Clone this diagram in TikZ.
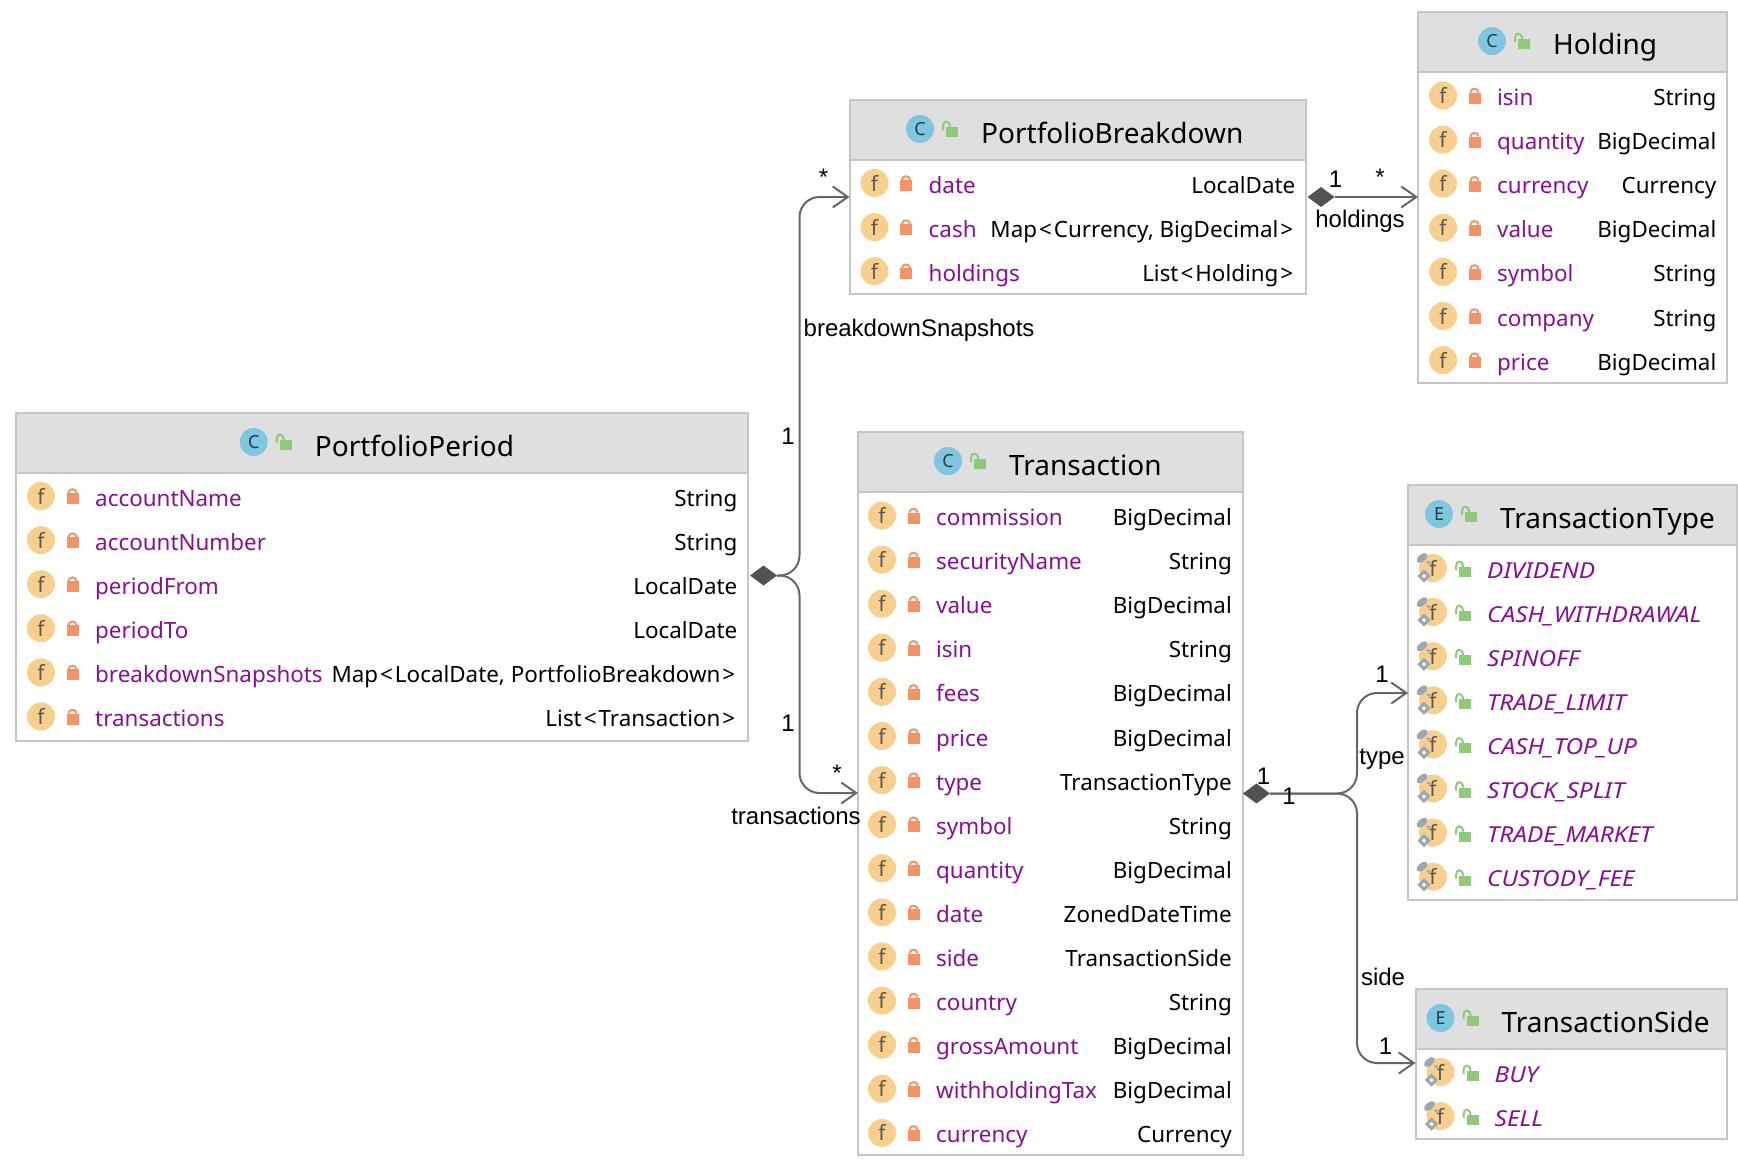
\documentclass[tikz,border=0pt]{standalone}
\usepackage{fontspec}
\setmainfont{Noto Sans}
\newfontfamily\labelfont{Liberation Sans}
\newfontfamily\enumfont[FakeStretch=1.11]{Noto Sans}
\usetikzlibrary{shapes.geometric, arrows.meta}

\definecolor{boxline}{HTML}{C6C6C6}
\definecolor{headfill}{HTML}{DFDFDF}
\definecolor{fieldpurple}{HTML}{871094}
\definecolor{fieldorange}{HTML}{F9CF8D}
\definecolor{classblue}{HTML}{7FC6E0}
\definecolor{lockred}{HTML}{F59367}
\definecolor{lockgreen}{HTML}{8FC97A}
\definecolor{pingray}{HTML}{9BA8B2}
\definecolor{connline}{HTML}{666666}

\newcommand{\ltag}{\kern2pt<\kern2pt}
\newcommand{\rtag}{\kern2pt>\kern2pt}

\tikzset{
	classbox/.style={draw=boxline, line width=2pt, fill=white, anchor=north west, inner sep=0pt, outer sep=0pt},
	headbox/.style={classbox, fill=headfill},
	classicon/.style={circle, fill=classblue, text=black!70!classblue, minimum size=28pt, inner sep=0pt, font=\fontsize{18}{18}\selectfont},
	titletext/.style={anchor=base west, inner sep=0pt, font=\fontsize{28}{28}\selectfont},
	fieldicon/.style={circle, fill=fieldorange, text=black!65, minimum size=28pt, inner sep=0pt, font=\fontsize{21}{21}\selectfont},
	namefield/.style={anchor=base west, inner sep=0pt, text=fieldpurple, font=\fontsize{22.4}{22.4}\selectfont},
	enumfield/.style={namefield, font=\enumfont\fontsize{22}{22}\selectfont\itshape},
	typefield/.style={anchor=base east, inner sep=0pt, font=\fontsize{22.4}{22.4}\selectfont},
	conn/.style={draw=connline, line width=2pt, rounded corners=20pt, -{Straight Barb[length=15pt,width=21pt]}},
	compo/.style={diamond, fill=black!68, minimum width=27pt, minimum height=20pt, inner sep=0pt, outer sep=0pt},
	rolelabel/.style={inner sep=0pt, font=\labelfont\fontsize{24}{24}\selectfont},
	lockshut/.pic={
		\fill[lockred] (-6,-3) rectangle (6,8);
		\draw[lockred, line width=2pt] (-4,-3) .. controls (-4,-8) and (4,-8) .. (4,-3);
	},
	lockopen/.pic={
		\fill[lockgreen] (-6,-2) rectangle (6,8);
		\draw[lockgreen, line width=2pt] (-9,1) -- (-9,-3) .. controls (-9,-9) and (-2,-9) .. (-2,-2);
	},
	pinmark/.pic={
		\fill[pingray] (-11,-10) ellipse[x radius=6.5, y radius=3.5, rotate=40];
		\fill[pingray] (-7,-7) -- (-2,-6) -- (-4,-3) -- cycle;
		\draw[pingray, fill=white, line width=3pt] (-9,3.5) -- (-4.5,8) -- (-9,12.5) -- (-13.5,8) -- cycle;
	},
}

% name, left, top, right, bottom, icon letter, icon x, title
\newcommand{\umlclass}[8]{
	\node[classbox, minimum width={(#4-#2)*1pt}, minimum height={(#5-#3)*1pt}] (#1) at (#2,#3) {};
	\node[headbox, minimum width={(#4-#2)*1pt}, minimum height=60pt] (#1-head) at (#2,#3) {};
	\node[classicon] (#1-icon) at (#7,#3+29) {#6};
	\pic at (#7+32,#3+29) {lockopen};
	\node[titletext] (#1-title) at (#7+61,#3+43) {#8};
}

% name, left, right, first row y, rows
\newcommand{\fieldrows}[5]{
	\foreach \fname/\ftype [count=\i from 0] in {#5} {
		\pgfmathsetmacro{\rowy}{#4+\i*44.1}
		\node[fieldicon] (#1-f\i) at (#2+25,\rowy) {f};
		\pic at (#2+56.5,\rowy) {lockshut};
		\node[namefield] (#1-name\i) at (#2+79,\rowy+10) {\fname};
		\node[typefield] (#1-type\i) at (#3-10.5,\rowy+10) {\ftype};
	}
}

% name, left, first row y, rows
\newcommand{\enumrows}[4]{
	\foreach \fname [count=\i from 0] in {#4} {
		\pgfmathsetmacro{\rowy}{#3+\i*44.1}
		\node[fieldicon] (#1-f\i) at (#2+25,\rowy) {f};
		\pic at (#2+25,\rowy) {pinmark};
		\pic at (#2+57,\rowy+1) {lockopen};
		\node[enumfield] (#1-name\i) at (#2+79,\rowy+10) {\fname};
	}
}

\begin{document}
\begin{tikzpicture}[x=1pt, y=-1pt]
	\useasboundingbox (0,0) rectangle (1738,1172);

	\umlclass{period}{16}{413}{748}{740.5}{C}{253.7}{PortfolioPeriod}
	\fieldrows{period}{16}{748}{496}{accountName/String, accountNumber/String, periodFrom/LocalDate, periodTo/LocalDate, breakdownSnapshots/{Map\ltag LocalDate, PortfolioBreakdown\rtag}, transactions/{List\ltag Transaction\rtag}}

	\umlclass{breakdown}{849.5}{100}{1306}{294}{C}{920}{PortfolioBreakdown}
	\fieldrows{breakdown}{849.5}{1306}{183}{date/LocalDate, cash/{Map\ltag Currency, BigDecimal\rtag}, holdings/{List\ltag Holding\rtag}}

	\umlclass{holding}{1418}{12}{1727}{382.5}{C}{1492}{Holding}
	\fieldrows{holding}{1418}{1727}{95.5}{isin/String, quantity/BigDecimal, currency/Currency, value/BigDecimal, symbol/String, company/String, price/BigDecimal}

	\umlclass{transaction}{858}{432}{1242.5}{1155}{C}{948}{Transaction}
	\fieldrows{transaction}{857}{1242.5}{515.5}{commission/BigDecimal, securityName/String, value/BigDecimal, isin/String, fees/BigDecimal, price/BigDecimal, type/TransactionType, symbol/String, quantity/BigDecimal, date/ZonedDateTime, side/TransactionSide, country/String, grossAmount/BigDecimal, withholdingTax/BigDecimal, currency/Currency}

	\umlclass{txtype}{1408}{485}{1737}{900}{E}{1439}{TransactionType}
	\enumrows{txtype}{1408}{568}{DIVIDEND, CASH\_WITHDRAWAL, SPINOFF, TRADE\_LIMIT, CASH\_TOP\_UP, STOCK\_SPLIT, TRADE\_MARKET, CUSTODY\_FEE}

	\umlclass{txside}{1415.5}{989}{1727}{1138.5}{E}{1440.5}{TransactionSide}
	\enumrows{txside}{1415.5}{1072}{BUY, SELL}

	\node[compo] (periodDia) at (763.5,575.5) {};
	\node[compo] (breakdownDia) at (1321,197) {};
	\node[compo] (transactionDia) at (1256.5,793.5) {};

	\coordinate (breakdownIn) at (849.5,197);
	\coordinate (transactionIn) at (858,793);
	\coordinate (holdingIn) at (1418,197);
	\coordinate (txtypeIn) at (1408,693);
	\coordinate (txsideIn) at (1415.5,1063);

	\draw[conn] (periodDia.east) -| (799.5,197) -- (breakdownIn);
	\draw[conn] (periodDia.east) -| (799.5,793) -- (transactionIn);
	\draw[conn] (breakdownDia.east) -- (holdingIn);
	\draw[conn] (transactionDia.east) -| (1357,693) -- (txtypeIn);
	\draw[conn] (transactionDia.east) -| (1357,1063) -- (txsideIn);

	\node[rolelabel] (starA) at (823.5,177) {*};
	\node[rolelabel, anchor=west] (snapshotsLabel) at (803.5,330) {breakdownSnapshots};
	\node[rolelabel] (oneA) at (788,436) {1};
	\node[rolelabel] (oneB) at (788,723) {1};
	\node[rolelabel] (starB) at (837,773) {*};
	\node[rolelabel] (transactionsLabel) at (796,816) {transactions};
	\node[rolelabel] (oneC) at (1335.5,179) {1};
	\node[rolelabel] (starC) at (1380,177) {*};
	\node[rolelabel] (holdingsLabel) at (1360,221.5) {holdings};
	\node[rolelabel] (oneD) at (1263.5,776) {1};
	\node[rolelabel] (oneE) at (1289,796) {1};
	\node[rolelabel] (oneF) at (1382,674) {1};
	\node[rolelabel] (typeLabel) at (1382,759) {type};
	\node[rolelabel] (sideLabel) at (1383,976.5) {side};
	\node[rolelabel] (oneG) at (1385.5,1046) {1};
\end{tikzpicture}
\end{document}
